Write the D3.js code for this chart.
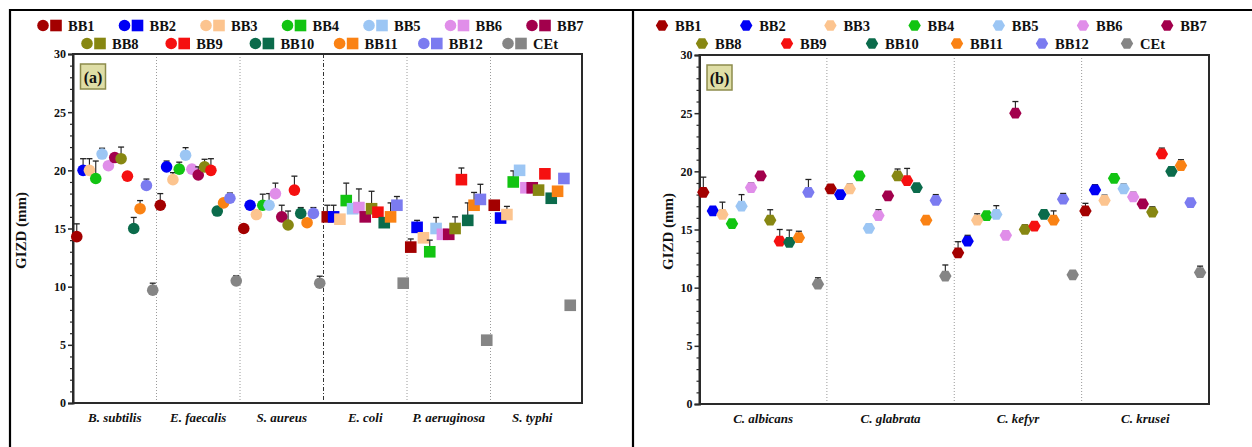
<!DOCTYPE html>
<html>
<head>
<meta charset="utf-8">
<script src="https://cdn.jsdelivr.net/npm/d3@7/dist/d3.min.js"></script>
<style>
  html, body { margin: 0; padding: 0; background: #fff; }
  svg { display: block; }
  text { font-family: "Liberation Serif", "Times New Roman", serif; font-weight: bold; fill: #111; }
</style>
</head>
<body>
<svg id="fig" width="1252" height="447"></svg>
<script>
// Test compounds and reference drug
const seriesNames = ["BB1","BB2","BB3","BB4","BB5","BB6","BB7","BB8","BB9","BB10","BB11","BB12","CEt"];
const seriesColors = ["#a30000","#0000f5","#fcc48f","#12c412","#9cc6f4","#e08ee9","#a2004c","#878712","#f51010","#0b6b4b","#fa8214","#7b7bf0","#858585"];

// (a) bacterial strains
const bacteria = ["B. subtilis","E. faecalis","S. aureus","E. coli","P. aeruginosa","S. typhi"];
const gizdBacteria = [
  [14.3, 17.0, 15.0, 16.0, 13.4, 17.0],
  [20.0, 20.3, 17.0, 16.0, 15.1, 15.9],
  [20.0, 19.2, 16.2, 15.8, 14.2, 16.2],
  [19.3, 20.1, 17.0, 17.4, 13.0, 19.0],
  [21.4, 21.3, 17.0, 16.7, 15.0, 20.0],
  [20.4, 20.1, 18.0, 16.8, 14.5, 18.5],
  [21.1, 19.6, 16.0, 16.0, 14.5, 18.5],
  [21.0, 20.3, 15.3, 16.7, 15.0, 18.3],
  [19.5, 20.0, 18.3, 16.4, 19.2, 19.7],
  [15.0, 16.5, 16.3, 15.5, 15.7, 17.6],
  [16.7, 17.2, 15.5, 16.0, 17.0, 18.2],
  [18.7, 17.6, 16.3, 17.0, 17.5, 19.3],
  [ 9.7, 10.5, 10.3, 10.3,  5.4,  8.4]
];
const sdBacteria = [
  [1.1, 1.0, 0.15, 1.0, 0.7, 0.2],
  [1.0, 0.5, 0.15, 1.0, 0.6, 0.2],
  [1.0, 0.6, 0.15, 0.2, 0.2, 0.7],
  [1.5, 0.6, 0.95, 1.5, 1.0, 0.95],
  [0.5, 0.65, 1.0, 0.2, 0.95, 0.2],
  [0.2, 0.2, 0.9, 1.6, 0.2, 0.2],
  [0.2, 0.7, 1.0, 0.3, 0.2, 0.2],
  [1.0, 0.65, 1.2, 1.5, 1.0, 0.2],
  [0.15, 1.0, 1.2, 0.3, 1.0, 0.2],
  [0.95, 0.2, 0.5, 0.3, 1.5, 0.2],
  [0.7, 0.2, 0.2, 1.2, 1.1, 0.3],
  [0.55, 0.45, 0.5, 0.75, 1.3, 0.3],
  [0.6, 0.45, 0.6, 0.3, 0.3, 0.3]
];

// (b) fungal strains
const fungi = ["C. albicans","C. glabrata","C. kefyr","C. krusei"];
const gizdFungi = [
  [18.2, 18.5, 13.0, 16.6],
  [16.6, 18.0, 14.0, 18.4],
  [16.3, 18.5, 15.8, 17.5],
  [15.5, 19.6, 16.2, 19.4],
  [17.0, 15.1, 16.3, 18.5],
  [18.6, 16.2, 14.5, 17.8],
  [19.6, 17.9, 25.0, 17.2],
  [15.8, 19.6, 15.0, 16.5],
  [14.0, 19.2, 15.3, 21.5],
  [13.9, 18.6, 16.3, 20.0],
  [14.3, 15.8, 15.8, 20.5],
  [18.2, 17.5, 17.6, 17.3],
  [10.3, 11.0, 11.1, 11.3]
];
const sdFungi = [
  [1.3, 0.3, 0.95, 0.65],
  [0.3, 0.2, 0.5, 0.45],
  [1.05, 0.4, 0.55, 0.45],
  [0.2, 0.2, 0.2, 0.2],
  [1.0, 0.2, 0.75, 0.4],
  [0.4, 0.5, 0.4, 0.4],
  [0.2, 0.2, 1.0, 0.2],
  [0.9, 0.6, 0.4, 0.45],
  [1.0, 1.05, 0.2, 0.5],
  [1.05, 0.3, 0.2, 0.2],
  [0.55, 0.2, 0.8, 0.5],
  [1.1, 0.5, 0.5, 0.35],
  [0.55, 0.95, 0.2, 0.55]
];

const yMajor = [0, 5, 10, 15, 20, 25, 30];
const yMinor = d3.range(0, 31).filter(v => v % 5 !== 0);

const svg = d3.select("#fig");

// table borders around the two panels
svg.append("line").attr("x1", 9).attr("x2", 1252).attr("y1", 10).attr("y2", 10)
  .attr("stroke", "#000").attr("stroke-width", 2);
svg.append("line").attr("x1", 10).attr("x2", 10).attr("y1", 9).attr("y2", 447)
  .attr("stroke", "#000").attr("stroke-width", 2.2);
svg.append("line").attr("x1", 633).attr("x2", 633).attr("y1", 9).attr("y2", 447)
  .attr("stroke", "#000").attr("stroke-width", 2.2);

const hexagon = (r) => {
  const pts = d3.range(6).map(i => {
    const a = Math.PI / 3 * i;
    return [r * Math.cos(a), r * Math.sin(a)];
  });
  return "M" + pts.map(p => p.join(",")).join("L") + "Z";
};

function drawPanel(cfg) {
  const g = svg.append("g");
  const y = d3.scaleLinear().domain([0, 30]).range([cfg.bottom, cfg.top]);
  const x = d3.scaleBand().domain(cfg.cats).range([cfg.left, cfg.bandRight]).padding(0);
  const bw = x.bandwidth();
  const inner = d3.scalePoint().domain(seriesNames).range([bw * cfg.inner[0], bw * cfg.inner[1]]);

  // category separators
  cfg.cats.slice(1).forEach((c, i) => {
    const strong = cfg.strongSep === i + 1;
    g.append("line")
      .attr("x1", x(c)).attr("x2", x(c))
      .attr("y1", cfg.top).attr("y2", cfg.bottom)
      .attr("stroke", strong ? "#333" : "#9a9a9a")
      .attr("stroke-width", strong ? 1 : 1)
      .attr("stroke-dasharray", strong ? "4,2,1,2" : "1,2");
  });

  // plot frame
  g.append("rect")
    .attr("x", cfg.left).attr("y", cfg.top)
    .attr("width", cfg.right - cfg.left).attr("height", cfg.bottom - cfg.top)
    .attr("fill", "none").attr("stroke", "#2a2a2a").attr("stroke-width", 2);

  // y axis, major and minor ticks
  const ax = g.append("g").attr("transform", `translate(${cfg.left},0)`)
    .call(d3.axisLeft(y).tickValues(yMajor).tickSize(5).tickPadding(2).tickFormat(d3.format("d")));
  ax.select(".domain").attr("stroke", "#2a2a2a").attr("stroke-width", 2);
  ax.selectAll(".tick line").attr("stroke", "#2a2a2a").attr("stroke-width", 1.5);
  ax.selectAll(".tick text").style("font-size", "12px").style("font-weight", "bold")
    .style("font-family", "'Liberation Serif', 'Times New Roman', serif").attr("fill", "#111");
  const axm = g.append("g").attr("transform", `translate(${cfg.left},0)`)
    .call(d3.axisLeft(y).tickValues(yMinor).tickSize(3).tickFormat(""));
  axm.select(".domain").remove();
  axm.selectAll(".tick line").attr("stroke", "#2a2a2a").attr("stroke-width", 1.2);

  // axis title
  g.append("text")
    .attr("transform", `translate(${cfg.titleX},${(cfg.top + cfg.bottom) / 2 + 2}) rotate(-90)`)
    .attr("text-anchor", "middle").attr("dominant-baseline", "central")
    .style("font-size", "15px").text("GIZD (mm)");

  // category labels
  cfg.cats.forEach(c => {
    g.append("text")
      .attr("x", x(c) + bw / 2).attr("y", cfg.bottom + 19)
      .attr("text-anchor", "middle")
      .style("font-size", "13px").style("font-style", "italic")
      .text(c);
  });

  // panel tag
  g.append("rect").attr("x", cfg.left + 7.5).attr("y", cfg.top + 10)
    .attr("width", 25).attr("height", 25)
    .attr("fill", "#dfdea6").attr("stroke", "#8d8c4c").attr("stroke-width", 1.5);
  g.append("text").attr("x", cfg.left + 20).attr("y", cfg.top + 28.5)
    .attr("text-anchor", "middle").style("font-size", "16px").text(cfg.tag);

  // points with upward error bars
  seriesNames.forEach((s, si) => {
    cfg.cats.forEach((c, ci) => {
      const v = cfg.values[si][ci];
      const e = cfg.errs[si][ci];
      const cx = x(c) + inner(s);
      const cy = y(v);
      const ty = y(v + e);
      g.append("line").attr("x1", cx).attr("x2", cx).attr("y1", cy).attr("y2", ty)
        .attr("stroke", "#222").attr("stroke-width", 1.1);
      g.append("line").attr("x1", cx - 3).attr("x2", cx + 3).attr("y1", ty).attr("y2", ty)
        .attr("stroke", "#222").attr("stroke-width", 1.3);
      const shape = cfg.shapeFor(ci);
      drawMarker(g, shape, cx, cy, seriesColors[si]);
    });
  });

  // legend
  seriesNames.forEach((s, si) => {
    const row = si < 7 ? 0 : 1;
    const k = row === 0 ? si : si - 7;
    const lx = cfg.legend.x0[row] + k * cfg.legend.dx[row];
    const ly = cfg.legend.y[row];
    let tx;
    if (cfg.legend.kind === "both") {
      drawMarker(g, "circle", lx, ly, seriesColors[si]);
      drawMarker(g, "square", lx + 13, ly, seriesColors[si]);
      tx = lx + 25;
    } else {
      drawMarker(g, "hex", lx, ly, seriesColors[si]);
      tx = lx + 13;
    }
    g.append("text").attr("x", tx).attr("y", ly + 5)
      .style("font-size", "14.5px").text(s);
  });
}

function drawMarker(g, shape, cx, cy, color) {
  if (shape === "circle") {
    g.append("circle").attr("cx", cx).attr("cy", cy).attr("r", 5.8).attr("fill", color);
  } else if (shape === "square") {
    g.append("rect").attr("x", cx - 5.8).attr("y", cy - 5.8).attr("width", 11.6).attr("height", 11.6).attr("fill", color);
  } else {
    g.append("path").attr("transform", `translate(${cx},${cy})`).attr("d", hexagon(6.2)).attr("fill", color);
  }
}

drawPanel({
  cats: bacteria, values: gizdBacteria, errs: sdBacteria,
  left: 73, right: 582, bandRight: 574, top: 54, bottom: 403,
  inner: [0.045, 0.955], strongSep: 3, titleX: 21, tag: "(a)",
  shapeFor: ci => ci < 3 ? "circle" : "square",
  legend: { kind: "both", x0: [43, 87], dx: [81.5, 84.2], y: [25.5, 43.5] }
});

drawPanel({
  cats: fungi, values: gizdFungi, errs: sdFungi,
  left: 699.5, right: 1209, bandRight: 1209, top: 55, bottom: 404,
  inner: [0.03, 0.93], strongSep: -1, titleX: 668, tag: "(b)",
  shapeFor: () => "hex",
  legend: { kind: "hex", x0: [662, 702], dx: [84.2, 85], y: [25.5, 43.5] }
});
</script>
</body>
</html>
